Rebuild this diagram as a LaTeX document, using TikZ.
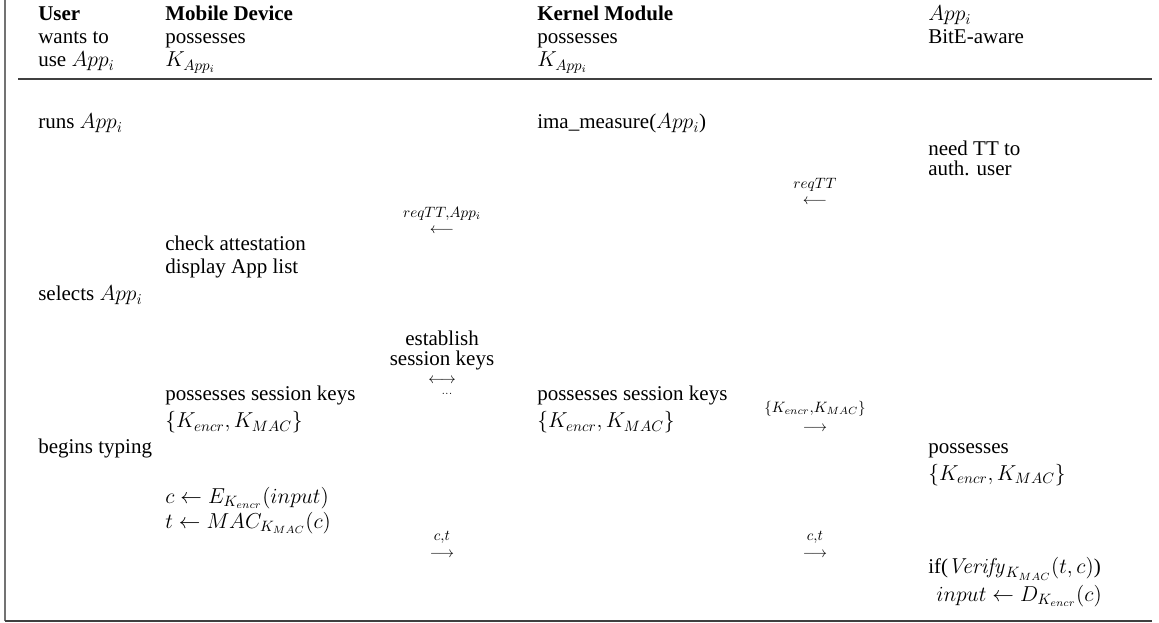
\documentclass[tikz,border=0pt]{standalone}
\usepackage[no-math]{fontspec}
\setmainfont{Liberation Serif}
\begin{document}
\begin{tikzpicture}[x=0.6667pt,y=-0.6667pt,
  txt/.style={anchor=base west,inner sep=0pt,font=\fontsize{14}{17}\selectfont},
  hdr/.style={txt,font=\fontsize{14}{17}\selectfont\bfseries},
  msg/.style={inner sep=0pt,font=\fontsize{14}{17}\selectfont},
  cmsg/.style={msg,anchor=base},
  framel/.style={draw=black!55,line width=1.3pt},
  ruleline/.style={draw=black!75,line width=1.2pt}]
\useasboundingbox (0,0) rectangle (1159,623);
% frame and header rule
\draw[framel] (5,0) -- (5,621);
\draw[ruleline] (5,621) -- (1152,621);
\draw[ruleline] (18,79) -- (1152,79);

% column headers
\node[hdr] (hU1) at (38,21) {User};
\node[txt] (hU2) at (38,44) {wants to};
\node[txt] (hU3) at (38,67) {use $App_i$};
\node[hdr] (hM1) at (165,21) {Mobile Device};
\node[txt] (hM2) at (165,44) {possesses};
\node[txt] (hM3) at (165,67) {$K_{App_i}$};
\node[hdr] (hK1) at (537,21) {Kernel Module};
\node[txt] (hK2) at (537,44) {possesses};
\node[txt] (hK3) at (537,67) {$K_{App_i}$};
\node[txt] (hA1) at (928,21) {$App_i$};
\node[txt] (hA2) at (928,44) {BitE-aware};

% user column
\node[txt] (u1) at (38,129) {runs $App_i$};
\node[txt] (u2) at (38,301) {selects $App_i$};
\node[txt] (u3) at (38,453) {begins typing};

% mobile device column
\node[txt] (m1) at (165,251) {check attestation};
\node[txt] (m2) at (165,274) {display App list};
\node[txt] (m3) at (165,401) {possesses session keys};
\node[txt] (m4) at (165,428) {$\{K_{encr}, K_{MAC}\}$};
\node[txt] (m5) at (165,503) {$c \leftarrow E_{K_{encr}}(input)$};
\node[txt] (m6) at (165,528) {$t \leftarrow MAC_{K_{MAC}}(c)$};

% kernel module column
\node[txt] (k1) at (537,129) {ima\_measure($App_i$)};
\node[txt] (k2) at (537,401) {possesses session keys};
\node[txt] (k3) at (537,428) {$\{K_{encr}, K_{MAC}\}$};

% app column
\node[txt] (a1) at (928,156) {need TT to};
\node[txt] (a2) at (928,176) {auth. user};
\node[txt] (a3) at (928,453) {possesses};
\node[txt] (a4) at (928,480) {$\{K_{encr}, K_{MAC}\}$};
\node[txt] (a5) at (928,573) {if($\mathit{Verify}_{K_{MAC}}(t,c)$)};
\node[txt] (a6) at (936,601) {$input \leftarrow D_{K_{encr}}(c)$};

% messages between mobile device and kernel module
\node[msg] (l1) at (442,214) {$\scriptstyle reqTT, App_i$};
\node[msg] (r1) at (442,231) {$\scriptstyle\longleftarrow$};
\node[cmsg] (s1) at (442,346) {establish};
\node[cmsg] (s2) at (442,366) {session keys};
\node[msg] (r2) at (442,381) {$\scriptstyle\longleftrightarrow$};
\node[msg] (s3) at (447,394) {$\scriptscriptstyle\dots$};
\node[msg] (l3) at (442,537) {$\scriptstyle c, t$};
\node[msg] (r3) at (442,555) {$\scriptstyle\longrightarrow$};

% messages between kernel module and app
\node[msg] (l4) at (815,185) {$\scriptstyle reqTT$};
\node[msg] (r4) at (815,202) {$\scriptstyle\longleftarrow$};
\node[msg] (l5) at (815,409) {$\scriptstyle \{K_{encr}, K_{MAC}\}$};
\node[msg] (r5) at (815,429) {$\scriptstyle\longrightarrow$};
\node[msg] (l6) at (815,537) {$\scriptstyle c, t$};
\node[msg] (r6) at (815,555) {$\scriptstyle\longrightarrow$};
\end{tikzpicture}
\end{document}
